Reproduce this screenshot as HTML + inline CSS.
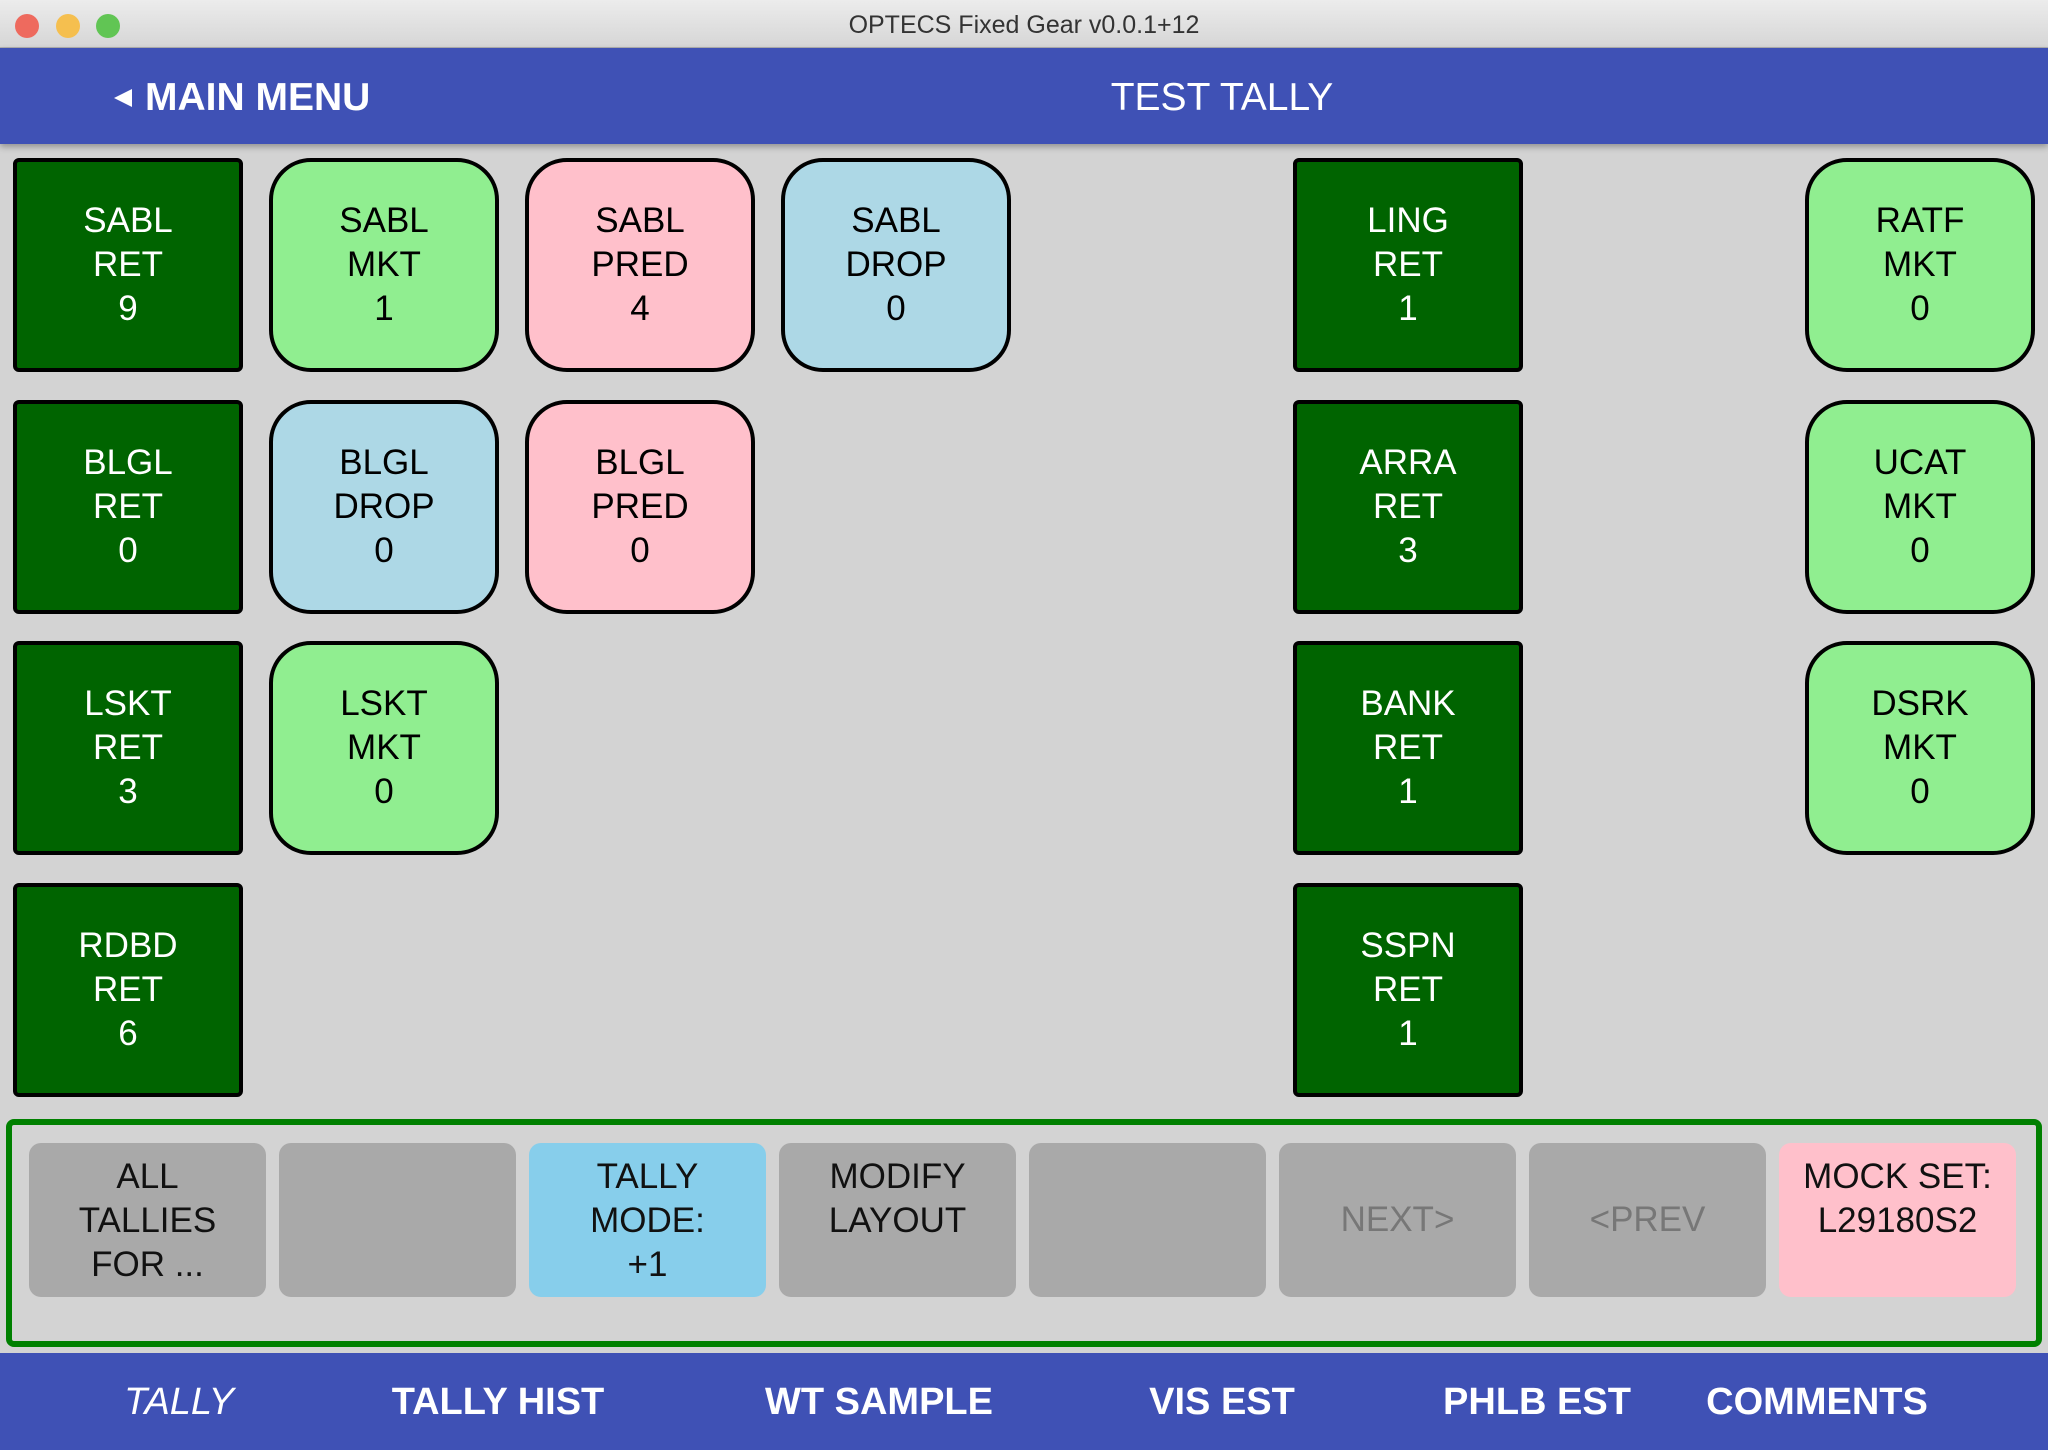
<!DOCTYPE html>
<html><head><style>
*{margin:0;padding:0;box-sizing:border-box}
body{width:2048px;height:1450px;background:#d3d3d3;font-family:"Liberation Sans",sans-serif;position:relative;overflow:hidden}
.abs{position:absolute}
.title{left:0;top:0;width:2048px;height:48px;background:linear-gradient(#ececec,#d6d6d6);border-bottom:1px solid #b0b0b0;text-align:center;font-size:25px;line-height:50px;color:#333}
.dot{width:24px;height:24px;border-radius:50%;top:14px}
.hdr{left:0;top:48px;width:2048px;height:96px;background:#3f51b5;box-shadow:0 3px 6px rgba(0,0,0,.3)}
.t{width:230px;height:214px;border:4px solid #000;display:flex;align-items:center;justify-content:center;text-align:center;font-size:35px;line-height:44px}
.r{background:#006400;color:#fff;border-radius:6px}
.m{background:#90ee90;border-radius:42px}
.p{background:#ffc0cb;border-radius:42px}
.d{background:#add8e6;border-radius:42px}
.b{width:237px;height:154px;top:1143px;border-radius:12px;background:#a9a9a9;display:flex;align-items:flex-start;padding-top:12px;justify-content:center;text-align:center;font-size:35px;line-height:44px;color:#111}
.c{align-items:center;padding-top:0}
.nav{left:0;top:1353px;width:2048px;height:97px;background:#3f51b5}
.n{top:1381px;font-size:38px;font-weight:bold;color:#fff;transform:translateX(-50%);white-space:nowrap}
</style></head><body>
<div class="abs title">OPTECS Fixed Gear v0.0.1+12</div>
<div class="abs dot" style="left:15px;background:#ee6a5e"></div>
<div class="abs dot" style="left:56px;background:#f5bf4f"></div>
<div class="abs dot" style="left:96px;background:#61c554"></div>
<div class="abs hdr"></div>
<div class="abs" style="left:114px;top:89px;width:0;height:0;border-top:9px solid transparent;border-bottom:9px solid transparent;border-right:18px solid #fff"></div>
<div class="abs" style="left:145px;top:76px;font-size:39px;font-weight:bold;color:#fff">MAIN MENU</div>
<div class="abs" style="left:1222px;top:76px;transform:translateX(-50%);font-size:39px;color:#fff">TEST TALLY</div>

<div class="abs t r" style="left:13px;top:158px">SABL<br>RET<br>9</div>
<div class="abs t m" style="left:269px;top:158px">SABL<br>MKT<br>1</div>
<div class="abs t p" style="left:525px;top:158px">SABL<br>PRED<br>4</div>
<div class="abs t d" style="left:781px;top:158px">SABL<br>DROP<br>0</div>
<div class="abs t r" style="left:1293px;top:158px">LING<br>RET<br>1</div>
<div class="abs t m" style="left:1805px;top:158px">RATF<br>MKT<br>0</div>

<div class="abs t r" style="left:13px;top:400px">BLGL<br>RET<br>0</div>
<div class="abs t d" style="left:269px;top:400px">BLGL<br>DROP<br>0</div>
<div class="abs t p" style="left:525px;top:400px">BLGL<br>PRED<br>0</div>
<div class="abs t r" style="left:1293px;top:400px">ARRA<br>RET<br>3</div>
<div class="abs t m" style="left:1805px;top:400px">UCAT<br>MKT<br>0</div>

<div class="abs t r" style="left:13px;top:641px">LSKT<br>RET<br>3</div>
<div class="abs t m" style="left:269px;top:641px">LSKT<br>MKT<br>0</div>
<div class="abs t r" style="left:1293px;top:641px">BANK<br>RET<br>1</div>
<div class="abs t m" style="left:1805px;top:641px">DSRK<br>MKT<br>0</div>

<div class="abs t r" style="left:13px;top:883px">RDBD<br>RET<br>6</div>
<div class="abs t r" style="left:1293px;top:883px">SSPN<br>RET<br>1</div>

<div class="abs" style="left:6px;top:1119px;width:2036px;height:228px;border:6px solid #008000;border-radius:8px"></div>
<div class="abs b" style="left:29px">ALL<br>TALLIES<br>FOR ...</div>
<div class="abs b" style="left:279px"></div>
<div class="abs b" style="left:529px;background:#87ceeb">TALLY<br>MODE:<br>+1</div>
<div class="abs b" style="left:779px">MODIFY<br>LAYOUT</div>
<div class="abs b" style="left:1029px"></div>
<div class="abs b c" style="left:1279px;color:#777">NEXT&gt;</div>
<div class="abs b c" style="left:1529px;color:#777">&lt;PREV</div>
<div class="abs b" style="left:1779px;background:#ffc0cb">MOCK SET:<br>L29180S2</div>

<div class="abs nav"></div>
<div class="abs n" style="left:179px;font-weight:normal;font-style:italic">TALLY</div>
<div class="abs n" style="left:498px">TALLY HIST</div>
<div class="abs n" style="left:879px">WT SAMPLE</div>
<div class="abs n" style="left:1222px">VIS EST</div>
<div class="abs n" style="left:1537px">PHLB EST</div>
<div class="abs n" style="left:1817px">COMMENTS</div>
</body></html>
